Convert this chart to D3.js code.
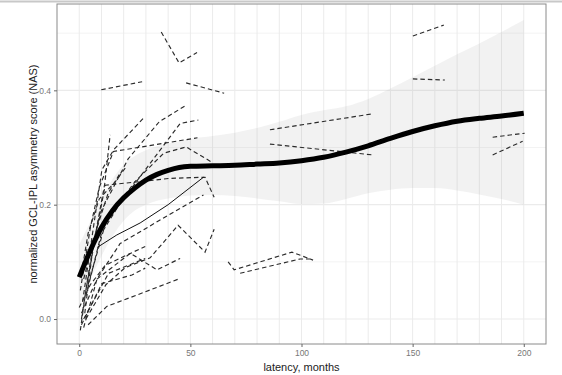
<!DOCTYPE html>
<html>
<head>
<meta charset="utf-8">
<script src="https://cdn.jsdelivr.net/npm/d3@7"></script>
<style>
  body { margin: 0; background: white; }
  text { font-family: "Liberation Sans", Arial, sans-serif; }
</style>
</head>
<body>
<script>
// Per-subject trajectories: [latency months, NAS]
const subjects = [
  [[36.9, 0.502], [44.9, 0.448], [53.0, 0.466]],
  [[48.1, 0.413], [65.2, 0.395]],
  [[9.9, 0.401], [28.3, 0.415]],
  [[85.8, 0.331], [132.1, 0.359]],
  [[85.8, 0.306], [115, 0.294], [132.1, 0.287]],
  [[150.1, 0.495], [164, 0.514]],
  [[150.1, 0.420], [164.5, 0.418]],
  [[186, 0.318], [200.4, 0.325]],
  [[186, 0.287], [199.5, 0.311]],
  [[67, 0.100], [69.7, 0.086], [95.7, 0.117], [105.2, 0.103]],
  [[72.4, 0.080], [99.3, 0.105], [104.7, 0.105]],
  [[2.5, 0.01], [6, 0.12], [11.5, 0.237], [13.9, 0.322]],
  [[1.5, 0.03], [6, 0.15], [10.2, 0.261], [15.5, 0.296], [28.8, 0.351]],
  [[0.5, 0.05], [5, 0.16], [9, 0.23], [15.4, 0.293], [53.2, 0.317]],
  [[3, 0.04], [10, 0.15], [18, 0.2], [27.4, 0.249], [45.4, 0.342], [53.6, 0.348]],
  [[2, 0.07], [10, 0.19], [22, 0.28], [36, 0.345], [48.1, 0.374]],
  [[4, 0.06], [12, 0.17], [25, 0.24], [38, 0.29], [48.1, 0.301], [60.2, 0.273]],
  [[1, 0.0], [5, 0.1], [11.7, 0.234], [40.9, 0.246], [56.6, 0.248], [60.7, 0.213]],
  [[3, 0.0], [12, 0.06], [20.7, 0.09], [31.9, 0.107], [44.5, 0.164], [56.6, 0.117], [60.7, 0.157]],
  [[1, 0.01], [8, 0.07], [23, 0.115], [35, 0.086], [45.4, 0.106]],
  [[4, -0.01], [12.4, 0.022], [28, 0.045], [45.4, 0.071]],
  [[2, -0.015], [8, 0.07], [18.4, 0.132], [35, 0.17], [55.9, 0.217]],
  [[0.5, -0.02], [3, 0.05], [8, 0.16], [13, 0.22], [18.4, 0.255]],
  [[1, 0.08], [4, 0.15], [9, 0.21], [16.2, 0.24], [20.7, 0.264]],
  [[0, 0.02], [5, 0.06], [11.7, 0.094], [29.7, 0.127]],
  [[2, 0.0], [13.2, 0.08], [29.7, 0.106]],
  [[1, -0.01], [10.2, 0.062], [23.7, 0.077], [29.7, 0.089]]
]
// one subject drawn as a solid line
const solidSubject = [[8, 0.125], [16.9, 0.147], [27.4, 0.168], [40, 0.2], [55.9, 0.248]]

// smoothed fit with confidence band
const smoothMonths = [0, 5, 10, 15, 20, 25, 30, 35, 40, 45, 50, 60, 70, 80, 90, 100, 110, 120, 130, 140, 150, 160, 170, 180, 190, 200]
const smoothFit = [0.073, 0.12, 0.16, 0.19, 0.212, 0.229, 0.243, 0.253, 0.26, 0.265, 0.267, 0.268, 0.269, 0.271, 0.273, 0.277, 0.283, 0.292, 0.303, 0.316, 0.328, 0.338, 0.346, 0.351, 0.355, 0.36]
const smoothLower = [0.02, 0.07, 0.11, 0.145, 0.172, 0.19, 0.2, 0.207, 0.211, 0.214, 0.216, 0.217, 0.215, 0.211, 0.206, 0.201, 0.202, 0.21, 0.22, 0.226, 0.229, 0.229, 0.225, 0.218, 0.21, 0.2]
const smoothUpper = [0.13, 0.17, 0.21, 0.245, 0.27, 0.285, 0.295, 0.302, 0.307, 0.311, 0.315, 0.32, 0.326, 0.334, 0.345, 0.357, 0.365, 0.372, 0.385, 0.403, 0.423, 0.443, 0.463, 0.482, 0.502, 0.523]

const xTicks = [0, 50, 100, 150, 200]
const xGrid = d3.range(0, 201, 10)
const yTicks = [0, 0.2, 0.4]
const yMinor = [0.1, 0.3, 0.5]

const W = 562, H = 375
const margin = { top: 4, right: 16, bottom: 31, left: 57 }
const width = W - margin.left - margin.right
const height = H - margin.top - margin.bottom

const svg = d3.select('body').append('svg')
    .attr('width', W)
    .attr('height', H)

// faint line along the very top of the image
svg.append('line')
    .attr('x1', 0).attr('x2', W).attr('y1', 1.5).attr('y2', 1.5)
    .style('stroke', '#c8c8c8').style('stroke-width', 2)

const g = svg.append('g')
    .attr('transform', `translate(${margin.left} ${margin.top})`)

const xScale = d3.scaleLinear().domain([-10, 210]).range([0, width])
const yScale = d3.scaleLinear().domain([-0.0437, 0.551]).range([height, 0])

// grid
g.selectAll('.vgrid').data(xGrid).enter().append('line')
    .attr('x1', d => xScale(d)).attr('x2', d => xScale(d))
    .attr('y1', 0).attr('y2', height)
    .style('stroke', '#ebebeb').style('stroke-width', 1)
g.selectAll('.hminor').data(yMinor).enter().append('line')
    .attr('x1', 0).attr('x2', width)
    .attr('y1', d => yScale(d)).attr('y2', d => yScale(d))
    .style('stroke', '#ebebeb').style('stroke-width', 0.6)
g.selectAll('.hmajor').data(yTicks).enter().append('line')
    .attr('x1', 0).attr('x2', width)
    .attr('y1', d => yScale(d)).attr('y2', d => yScale(d))
    .style('stroke', '#ebebeb').style('stroke-width', 1.1)

// confidence band
const band = smoothMonths.map((m, i) => ({ m, lo: smoothLower[i], hi: smoothUpper[i], fit: smoothFit[i] }))
const area = d3.area()
    .x(d => xScale(d.m))
    .y0(d => yScale(d.lo))
    .y1(d => yScale(d.hi))
    .curve(d3.curveMonotoneX)
g.append('path')
    .datum(band)
    .attr('d', area)
    .style('fill', '#999')
    .style('fill-opacity', 0.13)

// subject trajectories
const line = d3.line()
    .x(d => xScale(d[0]))
    .y(d => yScale(d[1]))
g.selectAll('.subject').data(subjects).enter().append('path')
    .attr('class', 'subject')
    .attr('d', line)
    .style('fill', 'none')
    .style('stroke', '#2a2a2a')
    .style('stroke-width', 1.15)
    .style('stroke-dasharray', '4.5,3')
g.append('path')
    .datum(solidSubject)
    .attr('d', line)
    .style('fill', 'none')
    .style('stroke', '#111')
    .style('stroke-width', 1)

// smooth fit
const fitLine = d3.line()
    .x(d => xScale(d.m))
    .y(d => yScale(d.fit))
    .curve(d3.curveMonotoneX)
g.append('path')
    .datum(band)
    .attr('d', fitLine)
    .style('fill', 'none')
    .style('stroke', '#000')
    .style('stroke-width', 5)

// panel border
g.append('rect')
    .attr('width', width).attr('height', height)
    .style('fill', 'none').style('stroke', '#8a8a8a').style('stroke-width', 1)

// axes
const xAxis = g.append('g')
    .attr('transform', `translate(0, ${height})`)
    .call(d3.axisBottom(xScale).tickValues(xTicks).tickSize(3).tickPadding(3).tickFormat(d3.format('d')))
const yAxis = g.append('g')
    .call(d3.axisLeft(yScale).tickValues(yTicks).tickSize(3).tickPadding(3).tickFormat(d3.format('.1f')))
g.selectAll('.domain').remove()
g.selectAll('.tick line').style('stroke', '#666')
g.selectAll('.tick text')
    .style('fill', '#777').style('font-size', '8.5px')
    .style('font-family', '"Liberation Sans", Arial, sans-serif')

// titles
svg.append('text')
    .attr('x', margin.left + width / 2).attr('y', 371)
    .attr('text-anchor', 'middle')
    .style('font-size', '11px').style('fill', '#222')
    .text('latency, months')
svg.append('text')
    .attr('transform', `translate(37 ${margin.top + height / 2}) rotate(-90)`)
    .attr('text-anchor', 'middle')
    .style('font-size', '11px').style('fill', '#222')
    .text('normalized GCL-IPL asymmetry score (NAS)')
</script>
</body>
</html>
